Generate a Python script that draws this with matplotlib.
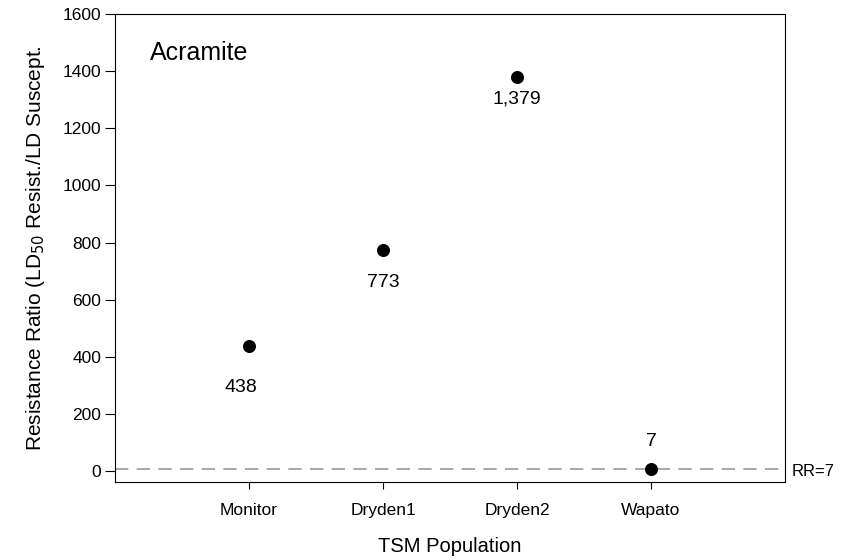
import matplotlib.pyplot as plt

plt.rcParams['font.family'] = ['Liberation Sans', 'DejaVu Sans']

populations = ["Monitor", "Dryden1", "Dryden2", "Wapato"]
ratios = [438, 773, 1379, 7]
labels = ["438", "773", "1,379", "7"]
rr_line = 7

# décalage des étiquettes (points)
offsets = [(-6, -30), (0, -23), (0, -16), (0, 20)]

fig = plt.figure(figsize=(8.41, 5.6), dpi=100)
ax = fig.add_axes([115 / 841, 78 / 560, 670 / 841, 468 / 560])

x = list(range(1, len(populations) + 1))
ax.scatter(x, ratios, s=70, color="black", zorder=3)
for xi, yi, lab, off in zip(x, ratios, labels, offsets):
    ax.annotate(lab, (xi, yi), xytext=off, textcoords="offset points",
                ha="center", va="center", fontsize=14)

ax.axhline(rr_line, color="#999999", lw=1.2, dashes=(8, 5), zorder=1)
ax.annotate("RR=7", xy=(1, rr_line), xycoords=("axes fraction", "data"),
            xytext=(5, -2), textcoords="offset points", va="center", fontsize=12)

ax.set_xlim(0, 5)
ax.set_ylim(-38, 1600)
ax.set_xticks(x)
ax.set_xticklabels(populations, fontsize=12.5)
ax.set_yticks(range(0, 1601, 200))
ax.tick_params(axis="y", labelsize=12.5, direction="out", length=7, pad=3)
ax.tick_params(axis="x", direction="out", length=5, pad=10)

ax.text(0.052, 0.942, "Acramite", transform=ax.transAxes, fontsize=18, va="top")

ax.set_xlabel("TSM Population", fontsize=14.5, labelpad=14)
ax.set_ylabel("Resistance Ratio (LD$_{50}$ Resist./LD Suscept.", fontsize=15, labelpad=11)

fig.savefig("out.png", dpi=100)
